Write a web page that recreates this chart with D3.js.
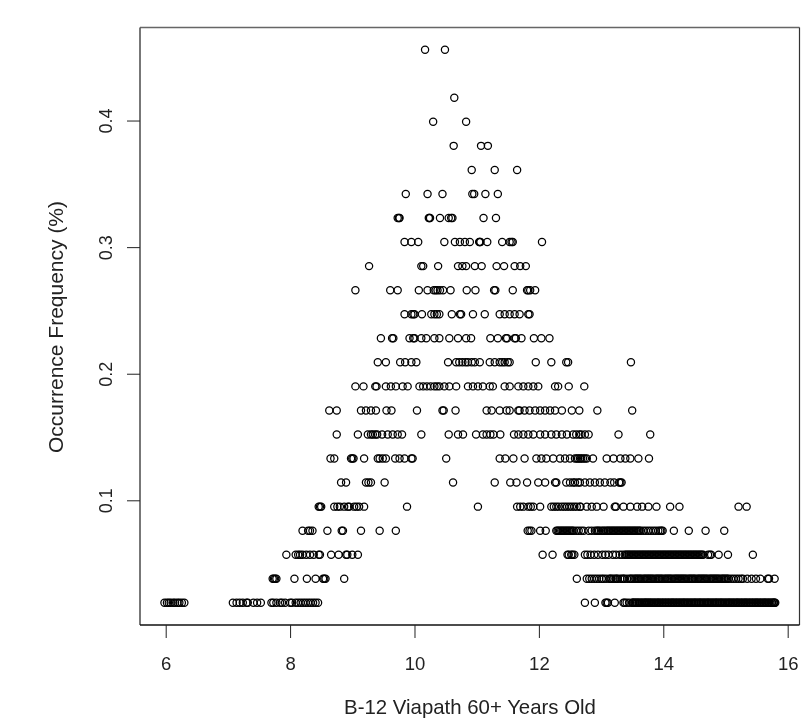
<!DOCTYPE html>
<html><head><meta charset="utf-8">
<script src="https://cdn.jsdelivr.net/npm/d3@7"></script>
<style>html,body{margin:0;padding:0;background:#fff;overflow:hidden}svg{display:block;filter:blur(0.65px)}text{font-family:"Liberation Sans",Arial,sans-serif;fill:#222}</style>
</head><body><div id="chart"></div>
<script>
const freqStep = 0.019;
const row01 = [5.98,6.02,6.05,6.08,6.12,6.15,6.19,6.22,6.26,6.30,7.08,7.14,7.19,7.24,7.30,7.32,7.41,7.47,7.53,7.70,7.73,7.78,7.84,7.87,7.92,8.00,8.03,8.09,8.13,8.17,8.21,8.25,8.29,8.33,8.37,8.41,8.45,
12.74,12.90,13.07,13.09,13.11,13.22,13.36,13.38,13.41,13.45,13.50,13.51,13.52,13.54,13.55,13.57,13.58,13.60,13.61,13.63,13.65,13.66,13.68,13.70,13.71,13.72,13.74,13.75,13.77,13.78,13.80,13.81,13.83,13.85,13.86,13.88,13.90,13.91,13.93,13.94,13.96,13.98,13.99,14.01,14.03,14.04,14.06,14.08,14.09,14.11,14.13,14.14,14.16,14.17,14.19,14.21,14.22,14.24,14.26,14.27,14.29,14.31,14.32,14.34,14.35,14.37,14.39,14.40,14.42,14.44,14.45,14.47,14.49,14.50,14.52,14.53,14.55,14.57,14.58,14.60,14.61,14.63,14.65,14.66,14.68,14.70,14.71,14.73,14.74,14.76,14.78,14.79,14.81,14.83,14.84,14.86,14.87,14.89,14.91,14.92,14.94,14.95,14.97,14.99,15.00,15.02,15.04,15.05,15.07,15.08,15.10,15.12,15.13,15.15,15.17,15.18,15.20,15.21,15.23,15.25,15.26,15.28,15.30,15.31,15.33,15.34,15.36,15.38,15.39,15.41,15.43,15.44,15.46,15.48,15.49,15.51,15.52,15.54,15.56,15.57,15.59,15.61,15.62,15.64,15.65,15.67,15.69,15.70,15.72,15.74,15.75,15.77,15.78,15.79,15.80];
const row02 = [7.72,7.74,7.76,7.78,8.07,8.27,8.41,8.53,8.55,8.57,8.87,12.61,12.77,12.81,12.85,12.89,12.93,12.97,13.01,13.04,13.08,13.13,13.15,13.17,13.20,13.23,13.25,13.27,13.31,13.34,13.36,13.38,13.42,13.46,13.48,13.50,13.53,13.55,13.57,13.59,13.61,13.63,13.65,13.68,13.70,13.72,13.74,13.76,13.78,13.80,13.82,13.84,13.87,13.89,13.91,13.93,13.95,13.97,13.99,14.02,14.04,14.06,14.08,14.10,14.12,14.14,14.17,14.19,14.21,14.23,14.25,14.27,14.29,14.31,14.33,14.35,14.37,14.40,14.42,14.44,14.46,14.48,14.50,14.52,14.55,14.57,14.59,14.61,14.63,14.65,14.67,14.69,14.71,14.74,14.76,14.78,14.80,14.82,14.84,14.86,14.88,14.90,14.93,14.95,14.97,14.99,15.01,15.03,15.05,15.09,15.13,15.17,15.21,15.25,15.28,15.35,15.42,15.49,15.56,15.68,15.70,15.79];
const row03 = [7.94,8.09,8.13,8.16,8.20,8.26,8.32,8.38,8.46,8.48,8.66,8.78,8.90,8.92,9.00,9.09,12.06,12.22,12.46,12.48,12.52,12.54,12.57,12.74,12.78,12.83,12.89,12.95,13.02,13.07,13.12,13.19,13.24,13.30,13.34,13.38,13.40,13.42,13.44,13.46,13.48,13.50,13.52,13.54,13.56,13.58,13.60,13.62,13.64,13.66,13.68,13.70,13.72,13.74,13.76,13.78,13.80,13.82,13.84,13.86,13.88,13.90,13.92,13.94,13.96,13.98,14.00,14.02,14.04,14.06,14.08,14.10,14.12,14.14,14.16,14.18,14.20,14.22,14.24,14.26,14.28,14.30,14.32,14.34,14.36,14.38,14.40,14.42,14.44,14.46,14.48,14.50,14.52,14.54,14.56,14.58,14.60,14.62,14.64,14.72,14.75,14.77,14.89,15.04,15.44];
const row04 = [8.20,8.29,8.32,8.36,8.60,8.83,8.85,9.14,9.44,9.70,11.82,11.85,11.88,12.02,12.11,12.28,12.30,12.32,12.34,12.36,12.38,12.40,12.42,12.44,12.46,12.48,12.50,12.52,12.54,12.56,12.60,12.64,12.68,12.72,12.80,12.85,12.90,12.93,12.95,12.97,13.00,13.03,13.05,13.08,13.10,13.12,13.14,13.16,13.18,13.20,13.22,13.24,13.26,13.28,13.30,13.32,13.34,13.36,13.38,13.40,13.42,13.44,13.46,13.48,13.50,13.52,13.54,13.56,13.58,13.60,13.62,13.64,13.68,13.72,13.76,13.80,13.84,13.88,13.92,13.95,13.97,13.99,14.17,14.41,14.68,14.98];
const row05 = [8.46,8.48,8.50,8.71,8.76,8.80,8.87,8.93,8.95,9.03,9.07,9.11,9.19,9.88,11.02,11.65,11.70,11.75,11.83,11.87,11.91,12.02,12.20,12.24,12.28,12.32,12.37,12.41,12.45,12.49,12.53,12.57,12.61,12.66,12.67,12.77,12.85,12.93,13.04,13.22,13.24,13.36,13.47,13.58,13.66,13.76,13.89,14.11,14.26,15.21,15.34];
const row06 = [8.82,8.90,9.22,9.26,9.30,9.52,10.62,11.29,11.54,11.64,11.81,11.99,12.10,12.26,12.28,12.44,12.50,12.55,12.58,12.63,12.66,12.74,12.82,12.90,12.98,13.06,13.15,13.21,13.29,13.31,13.33];
const row07 = [8.65,8.71,8.98,9.00,9.02,9.19,9.41,9.44,9.49,9.54,9.69,9.76,9.84,9.95,9.97,10.51,11.37,11.46,11.59,11.77,11.96,12.04,12.12,12.23,12.34,12.42,12.50,12.58,12.61,12.63,12.66,12.68,12.71,12.74,12.77,12.87,13.09,13.20,13.31,13.39,13.47,13.60,13.77];
const row08 = [8.75,9.09,9.25,9.30,9.33,9.37,9.40,9.48,9.57,9.65,9.73,9.80,10.11,10.55,10.70,10.78,10.99,11.10,11.16,11.22,11.27,11.38,11.60,11.67,11.75,11.83,11.91,12.02,12.10,12.20,12.28,12.37,12.45,12.55,12.60,12.65,12.68,12.74,12.80,13.28,13.79];
const row09 = [8.63,8.75,9.14,9.22,9.30,9.38,9.55,9.63,10.04,10.45,10.47,10.66,11.16,11.24,11.37,11.48,11.53,11.67,11.69,11.77,11.85,11.94,12.02,12.10,12.18,12.26,12.37,12.53,12.65,12.94,13.50];
const row10 = [9.05,9.18,9.37,9.39,9.54,9.62,9.70,9.81,9.89,10.08,10.14,10.20,10.26,10.32,10.36,10.40,10.48,10.56,10.67,10.86,10.94,11.02,11.10,11.21,11.26,11.45,11.53,11.67,11.75,11.83,11.91,11.99,12.26,12.31,12.48,12.73];
const row11 = [9.41,9.54,9.77,9.85,9.95,10.03,10.54,10.67,10.72,10.77,10.82,10.86,10.92,10.97,11.05,11.21,11.29,11.37,11.41,11.45,11.50,11.53,11.95,12.20,12.44,12.47,13.48];
const row12 = [9.46,9.64,9.66,9.92,9.98,10.00,10.11,10.19,10.32,10.40,10.56,10.70,10.83,10.91,11.22,11.34,11.47,11.49,11.61,11.63,11.72,11.92,12.04,12.17];
const row13 = [9.84,9.95,9.98,10.00,10.12,10.27,10.32,10.36,10.40,10.60,10.73,10.75,10.94,11.13,11.37,11.45,11.53,11.61,11.69,11.83,11.85];
const row14 = [9.05,9.61,9.73,10.07,10.21,10.31,10.34,10.37,10.41,10.46,10.58,10.84,10.98,11.28,11.30,11.58,11.81,11.83,11.86,11.94];
const row15 = [9.27,10.11,10.14,10.38,10.70,10.77,10.83,10.97,11.08,11.32,11.44,11.61,11.70,11.79];
const row16 = [9.84,9.95,10.06,10.48,10.65,10.73,10.81,10.89,11.04,11.05,11.06,11.17,11.41,11.53,11.56,11.58,12.05];
const row17 = [9.73,9.75,9.76,10.23,10.24,10.25,10.41,10.55,10.59,10.61,11.11,11.31];
const row18 = [9.86,10.21,10.45,10.93,10.96,11.14,11.34];
const row19 = [10.92,11.29,11.65];
const row20 = [10.63,11.07,11.18];
const row21 = [10.30,10.83];
const row22 = [10.64];
const row23 = [];
const row24 = [10.17,10.49];
const rowsByCount = [row01,row02,row03,row04,row05,row06,row07,row08,row09,row10,row11,row12,row13,row14,row15,row16,row17,row18,row19,row20,row21,row22,row23,row24];
const xTicks = [6,8,10,12,14,16];
const yTicks = [0.1,0.2,0.3,0.4];
const xTitle = "B-12 Viapath 60+ Years Old";
const yTitle = "Occurrence Frequency (%)";

const W=802,H=720;
const L=140,R=799.5,T=27.5,B=625;
const FONT='"Liberation Sans",Arial,sans-serif';
const x=d3.scaleLinear().domain([5.587,16.19]).range([L,R]);
const y=d3.scaleLinear().domain([0.019-0.0175,0.456+0.0175]).range([B,T]);
const svg=d3.select("#chart").append("svg").attr("width",W).attr("height",H);
svg.append("rect").attr("width",W).attr("height",H).attr("fill","#fff");

const frame=svg.append("g").attr("fill","none");
frame.append("line").attr("x1",L).attr("x2",R).attr("y1",T).attr("y2",T).attr("stroke","#666").attr("stroke-width",1.6);
frame.append("line").attr("x1",L).attr("x2",L).attr("y1",T).attr("y2",B).attr("stroke","#555").attr("stroke-width",1.6);
frame.append("line").attr("x1",R).attr("x2",R).attr("y1",T).attr("y2",B).attr("stroke","#333").attr("stroke-width",1.2);
frame.append("line").attr("x1",L).attr("x2",R).attr("y1",B).attr("y2",B).attr("stroke","#111").attr("stroke-width",1.3);

const points=rowsByCount.flatMap((xs,i)=>xs.map(v=>({x:v,y:(i+1)*freqStep})));
svg.append("g").selectAll("circle").data(points).join("circle")
 .attr("cx",d=>x(d.x)).attr("cy",d=>y(d.y)).attr("r",3.6)
 .attr("fill","none").attr("stroke","#000").attr("stroke-width",1.25);

const gx=svg.append("g").attr("transform",`translate(0,${B})`)
 .call(d3.axisBottom(x).tickValues(xTicks).tickSize(13).tickFormat(d3.format("d")));
gx.select(".domain").remove();
gx.selectAll("line").attr("stroke","#222");
gx.selectAll("text").attr("font-size",18.5).style("font-family",FONT).attr("fill","#222")
 .attr("y",45).attr("dy",null);
const gy=svg.append("g").attr("transform",`translate(${L},0)`)
 .call(d3.axisLeft(y).tickValues(yTicks).tickSize(13).tickFormat(d3.format(".1f")));
gy.select(".domain").remove();
gy.selectAll("line").attr("stroke","#222");
gy.selectAll("text").attr("font-size",18).style("font-family",FONT).attr("fill","#222")
 .attr("x",null).attr("dy",null).attr("text-anchor","middle")
 .attr("transform","translate(-28,0) rotate(-90)");
svg.append("text").attr("x",470).attr("y",714).attr("text-anchor","middle").attr("font-size",20.4).text(xTitle);
svg.append("text").attr("transform","translate(63,327) rotate(-90)").attr("text-anchor","middle").attr("font-size",21).text(yTitle);
</script></body></html>
